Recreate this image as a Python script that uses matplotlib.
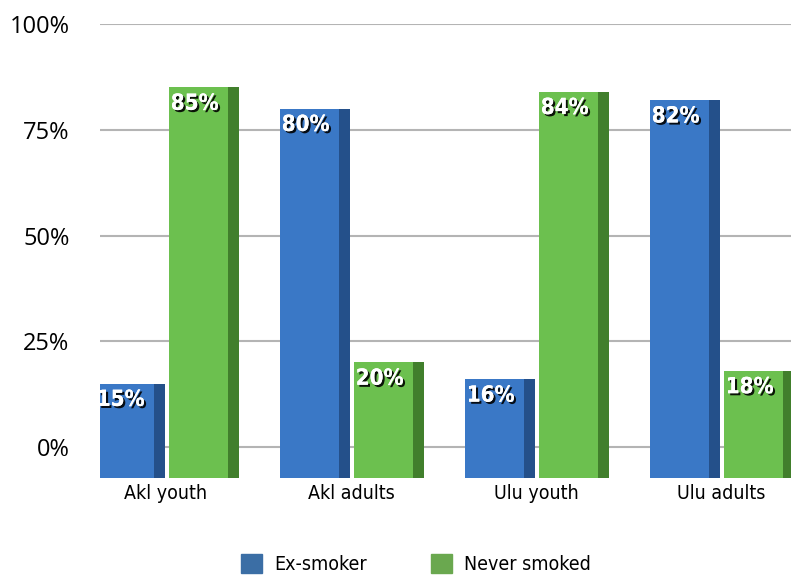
import numpy as np
import matplotlib.pyplot as plt
import matplotlib.patheffects as pe
from matplotlib.patches import Patch

groups = ['Akl youth', 'Akl adults', 'Ulu youth', 'Ulu adults']
ex_smoker = [15, 80, 16, 82]
never_smoked = [85, 20, 84, 18]
series_names = ['Ex-smoker', 'Never smoked']
yticks = [0, 25, 50, 75, 100]
ytick_labels = ['0%', '25%', '50%', '75%', '100%']

narrow = ['DejaVu Sans Condensed', 'Liberation Sans Narrow', 'DejaVu Sans']
blue, blue_dark = '#3a78c6', '#24508a'
green, green_dark = '#6cc04f', '#417f2c'
base = -7.3  # bars sit a little in front of the 0% line

fig = plt.figure(figsize=(7.91, 5.75), dpi=100)
ax = fig.add_axes([100 / 791, 1 - 480 / 575, 1 - 100 / 791, (480 - 24) / 575])

x = np.arange(len(groups))
w = 0.375
xb = x - 0.195
xg = x + 0.205

ax.bar(xb, np.array(ex_smoker) - base, bottom=base, width=w, color=blue, zorder=3)
ax.bar(xg, np.array(never_smoked) - base, bottom=base, width=w, color=green, zorder=3)
# darker side faces
ax.bar(xb + w / 2 - 0.03, np.array(ex_smoker) - base, bottom=base, width=0.06,
       color=blue_dark, zorder=3)
ax.bar(xg + w / 2 - 0.03, np.array(never_smoked) - base, bottom=base, width=0.06,
       color=green_dark, zorder=3)

shadow = [pe.withSimplePatchShadow(offset=(1.5, -1.5), shadow_rgbFace='black', alpha=0.9),
          pe.Normal()]
for xs, vals in ((xb, ex_smoker), (xg, never_smoked)):
    for xi, v in zip(xs, vals):
        ax.text(xi - 0.05, v - 1.5, f'{v}%', ha='center', va='top', color='white',
                fontsize=16, fontweight='bold', family=narrow, fontstretch='condensed',
                zorder=5, path_effects=shadow)

ax.set_xlim(-0.357, 3.378)
ax.set_ylim(-7.8, 100)
ax.set_yticks(yticks, ytick_labels)
ax.set_xticks(x, groups)
ax.tick_params(axis='y', length=0, pad=22, labelsize=17)
ax.tick_params(axis='x', length=0, pad=3, labelsize=14)
for lab in ax.get_yticklabels():
    lab.set_family(['Open Sans', 'DejaVu Sans'])
for lab in ax.get_xticklabels():
    lab.set_family(narrow)
    lab.set_fontstretch('condensed')
ax.yaxis.grid(True, color='#b4b4b4', lw=1.5, zorder=0)
for s in ax.spines.values():
    s.set_visible(False)

handles = [Patch(color='#3b6ea5'), Patch(color='#6aa84f')]
fig.legend(handles, series_names, loc='center left', bbox_to_anchor=(241 / 791, 0.019),
           ncol=2, frameon=False, borderpad=0, borderaxespad=0,
           handlelength=1.1, handleheight=1.1, handletextpad=0.6,
           columnspacing=3.3, prop={'family': narrow, 'size': 14, 'stretch': 'condensed'})

fig.savefig('out.png', dpi=100)
